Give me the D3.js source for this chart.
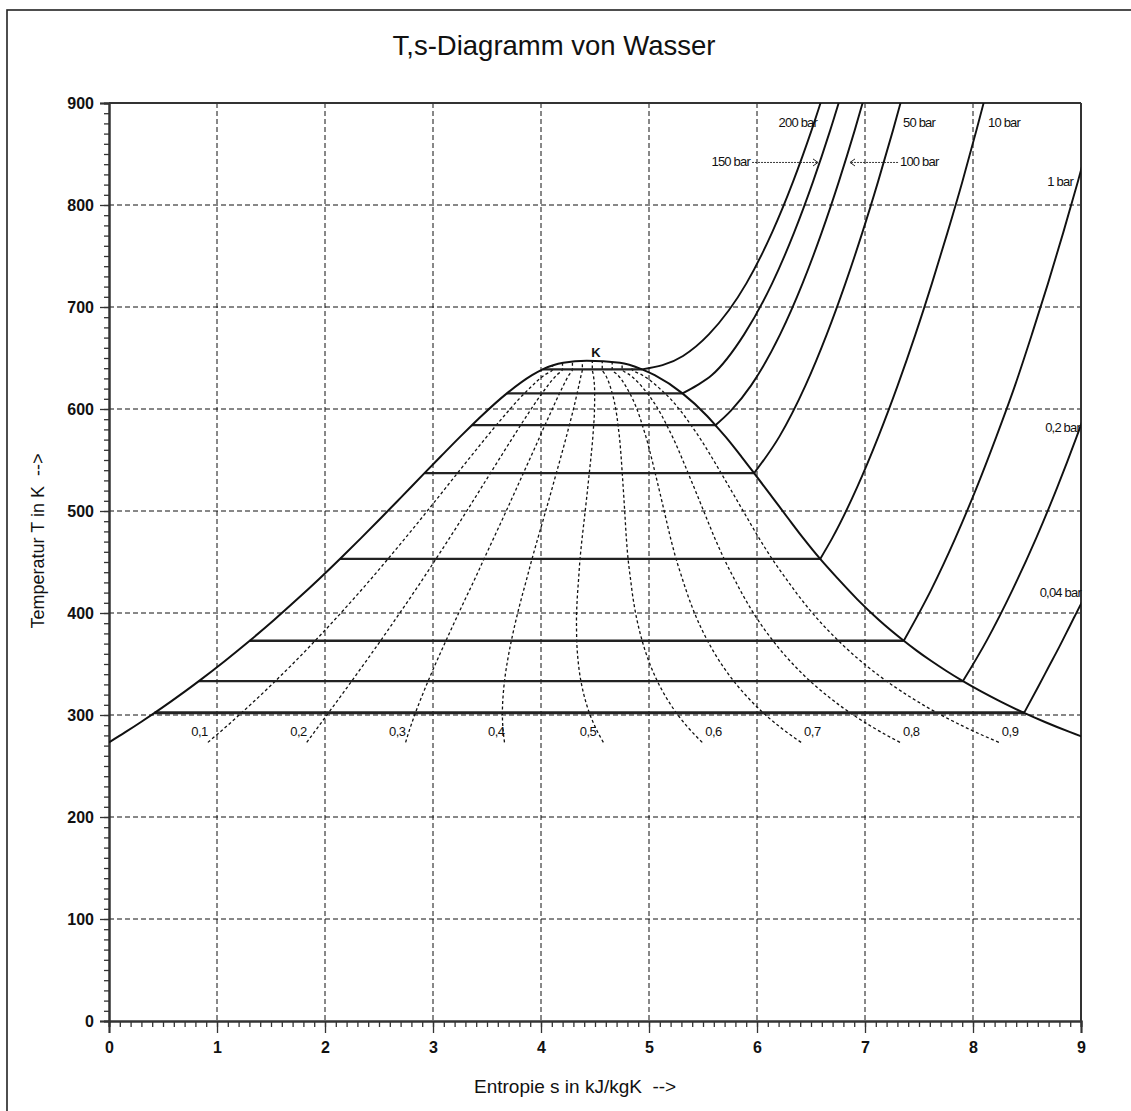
<!DOCTYPE html>
<html><head><meta charset="utf-8">
<script src="https://cdn.jsdelivr.net/npm/d3@7"></script>
<style>
body{margin:0;background:#fff}
svg{display:block}
text{font-family:"Liberation Sans",Arial,Helvetica,sans-serif;fill:#111}
</style>
</head><body>
<svg id="chart" width="1131" height="1111"></svg>
<script>
// ---------------- data ----------------
const titleText = "T,s-Diagramm von Wasser";
const xLabelText = "Entropie s in kJ/kgK \u00a0-->";
const yLabelText = "Temperatur T in K \u00a0-->";
const xMajorTicks = [0,1,2,3,4,5,6,7,8,9];
const yMajorTicks = [0,100,200,300,400,500,600,700,800,900];
const xGrid = [1,2,3,4,5,6,7,8];
const yGrid = [100,200,300,400,500,600,700,800];

// saturation line of water (T in K, s' and s'' in kJ/kgK)
const satT  = [273.16,283.15,293.15,302.1,313.15,323.15,333.2,343.15,353.15,363.15,372.8,393.15,413.15,433.15,453.0,473.15,493.15,513.15,537.1,553.15,573.15,584.1,593.15,615.3,633.15,638.9];
const satSL = [0.000,0.151,0.2965,0.422,0.572,0.704,0.832,0.955,1.076,1.193,1.303,1.528,1.739,1.943,2.138,2.331,2.518,2.702,2.921,3.069,3.255,3.360,3.449,3.684,3.917,4.015];
const satSV = [9.155,8.900,8.666,8.473,8.256,8.075,7.907,7.754,7.611,7.478,7.359,7.129,6.931,6.753,6.585,6.430,6.286,6.144,5.973,5.857,5.706,5.615,5.538,5.310,5.053,4.935];
// top of the dome round the critical point K
const critArcS = [4.206,4.423,4.731];
const critArcT = [645.4,647.2,645.4];
const critLabel = "K";

// vapour quality lines
const qualities = [0.1,0.2,0.3,0.4,0.5,0.6,0.7,0.8,0.9];
const qualityLabels = ["0,1","0,2","0,3","0,4","0,5","0,6","0,7","0,8","0,9"];

// isobars: saturation temperatures (two-phase horizontals)
const isobarNames = ["0,04 bar","0,2 bar","1 bar","10 bar","50 bar","100 bar","150 bar","200 bar"];
const isobarSatT  = [302.1,333.2,372.8,453.0,537.1,584.1,615.3,638.9];

// superheated isobars (s, T)
const p004S = [8.473,8.60,8.70,8.80,8.90,9.00,9.05];
const p004T = [302.1,327,347,367,388,409,419];
const p02S  = [7.907,8.128,8.368,8.584,8.780,8.961,9.13];
const p02T  = [333.2,373.15,423.15,473.15,523.15,573.15,623.15];
const p1S   = [7.359,7.6148,7.8356,8.0346,8.2172,8.3893,8.5452,8.6946,8.8362,8.9713,9.0999];
const p1T   = [372.8,423.15,473.15,523.15,573.15,623.15,673.15,723.15,773.15,823.15,873.15];
const p10S  = [6.585,6.6955,6.9265,7.1246,7.3029,7.4670,7.6198,7.7642,7.9020,8.0311,8.1563];
const p10T  = [453.0,473.15,523.15,573.15,623.15,673.15,723.15,773.15,823.15,873.15,923.15];
const p50S  = [5.973,6.2084,6.4493,6.6459,6.8186,6.9759,7.1217,7.2589,7.3892];
const p50T  = [537.1,573.15,623.15,673.15,723.15,773.15,823.15,873.15,923.15];
const p100S = [5.615,5.7568,5.9459,6.2141,6.4219,6.5995,6.7585,6.9045,7.0408];
const p100T = [584.1,598.15,623.15,673.15,723.15,773.15,823.15,873.15,923.15];
const p150S = [5.310,5.4438,5.58,5.8811,6.1403,6.3442,6.5198,6.6775,6.8223];
const p150T = [615.3,623.15,633.0,673.15,723.15,773.15,823.15,873.15,923.15];
const p200S = [4.935,5.315,5.554,5.9017,6.1401,6.3348,6.5048,6.6582];
const p200T = [638.9,652.0,673.15,723.15,773.15,823.15,873.15,923.15];

// ---------------- drawing ----------------
const svg = d3.select("#chart");
const W = 1131, H = 1111;
const m = {left:109, right:1081, top:103, bottom:1021};
const x = d3.scaleLinear().domain([0,9]).range([m.left, m.right]);
const y = d3.scaleLinear().domain([0,900]).range([m.bottom, m.top]);

svg.append("rect").attr("width",W).attr("height",H).attr("fill","#fff");
// outer frame
svg.append("rect").attr("x",7).attr("y",10).attr("width",W+20).attr("height",H+20)
  .attr("fill","none").attr("stroke","#222").attr("stroke-width",1.6);

svg.append("defs").append("clipPath").attr("id","plotclip")
  .append("rect").attr("x",m.left).attr("y",m.top).attr("width",m.right-m.left).attr("height",m.bottom-m.top);

// title
svg.append("text").attr("x",554).attr("y",55).attr("text-anchor","middle")
  .style("font-size","27.5px").text(titleText);

// grid
const grid = svg.append("g").attr("stroke","#111").attr("stroke-width",1).attr("stroke-dasharray","5,3");
grid.selectAll("line.v").data(xGrid).join("line").attr("class","v")
  .attr("x1",d=>x(d)).attr("x2",d=>x(d)).attr("y1",y(900)).attr("y2",y(0));
grid.selectAll("line.h").data(yGrid).join("line").attr("class","h")
  .attr("x1",x(0)).attr("x2",x(9)).attr("y1",d=>y(d)).attr("y2",d=>y(d));

// axes
const xMinor = d3.range(0,91).map(i=>i/10);
const yMinor = d3.range(0,91).map(i=>i*10);
const gx1 = svg.append("g").attr("transform",`translate(0,${m.bottom})`)
  .call(d3.axisBottom(x).tickValues(xMinor).tickSize(6).tickFormat(""));
const gx2 = svg.append("g").attr("transform",`translate(0,${m.bottom})`)
  .call(d3.axisBottom(x).tickValues(xMajorTicks).tickSize(12).tickPadding(9).tickFormat(d3.format("d")));
const gy1 = svg.append("g").attr("transform",`translate(${m.left},0)`)
  .call(d3.axisLeft(y).tickValues(yMinor).tickSize(5).tickFormat(""));
const gy2 = svg.append("g").attr("transform",`translate(${m.left},0)`)
  .call(d3.axisLeft(y).tickValues(yMajorTicks).tickSize(9).tickPadding(6).tickFormat(d3.format("d")));
[gx1,gx2,gy1,gy2].forEach(g=>{
  g.selectAll("path.domain").attr("stroke","#333").attr("stroke-width",2);
  g.selectAll(".tick line").attr("stroke","#333").attr("stroke-width",1.3);
  g.selectAll("text").style("font-size","16px").style("font-weight","bold")
    .style("font-family","'Liberation Sans',Arial,sans-serif").attr("fill","#111");
});
// top and right frame of plot
svg.append("line").attr("x1",x(0)).attr("x2",x(9)).attr("y1",y(900)).attr("y2",y(900)).attr("stroke","#333").attr("stroke-width",2);
svg.append("line").attr("x1",x(9)).attr("x2",x(9)).attr("y1",y(900)).attr("y2",y(0)).attr("stroke","#333").attr("stroke-width",2);

// axis titles
svg.append("text").attr("x",474).attr("y",1093).style("font-size","19px").text(xLabelText);
svg.append("text").attr("transform","translate(44,541) rotate(-90)").attr("text-anchor","middle")
  .style("font-size","18px").text(yLabelText);

const plot = svg.append("g").attr("clip-path","url(#plotclip)");
const lineMX = d3.line().x(d=>x(d[0])).y(d=>y(d[1])).curve(d3.curveMonotoneX);
const lineMY = d3.line().x(d=>x(d[0])).y(d=>y(d[1])).curve(d3.curveMonotoneY);
const lineL = d3.line().x(d=>x(d[0])).y(d=>y(d[1]));

// quality lines
const n = satT.length;
const arcPts = [[satSL[n-1],satT[n-1]]].concat(critArcS.map((s,i)=>[s,critArcT[i]])).concat([[satSV[n-1],satT[n-1]]]);
const arcT = d3.scaleLinear().domain(arcPts.map(p=>p[0])).range(arcPts.map(p=>p[1]));
const qLines = qualities.map(q=>{
  const pts = satT.map((t,i)=>[satSL[i]+q*(satSV[i]-satSL[i]), t]);
  const sTop = satSL[n-1]+q*(satSV[n-1]-satSL[n-1]);
  pts.push([sTop, arcT(sTop)]);
  return pts;
});
plot.selectAll("path.q").data(qLines).join("path").attr("class","q")
  .attr("d",lineMY).attr("fill","none").attr("stroke","#111").attr("stroke-width",1.3).attr("stroke-dasharray","3,2.5");

// two-phase horizontals
const twoPhase = isobarSatT.map(t=>{ const i = satT.indexOf(t); return [[satSL[i],t],[satSV[i],t]]; });
plot.selectAll("path.tp").data(twoPhase).join("path").attr("class","tp")
  .attr("d",lineL).attr("fill","none").attr("stroke","#222").attr("stroke-width",(d,i)=>i===0?3:2.3);

// dome
const dome = satT.map((t,i)=>[satSL[i],t])
  .concat(critArcS.map((s,i)=>[s,critArcT[i]]))
  .concat(satT.map((t,i)=>[satSV[i],t]).reverse());
plot.append("path").attr("d",lineMX(dome)).attr("fill","none").attr("stroke","#111").attr("stroke-width",2);

// superheated isobars
const supS = [p004S,p02S,p1S,p10S,p50S,p100S,p150S,p200S];
const supT = [p004T,p02T,p1T,p10T,p50T,p100T,p150T,p200T];
const sup = supS.map((ss,k)=>ss.map((s,i)=>[s,supT[k][i]]));
plot.selectAll("path.sup").data(sup).join("path").attr("class","sup")
  .attr("d",lineMX).attr("fill","none").attr("stroke","#111").attr("stroke-width",1.9);

// quality labels
const qlab = svg.append("g").style("font-size","13px").style("letter-spacing","-0.5px");
qualities.forEach((q,k)=>{
  const endS = qLines[k][0][0];
  const px = x(endS);
  let anchor = "end", dx = 0;
  if (q > 0.55) { anchor = "start"; dx = 3; } else if (q > 0.45) { dx = -7; }
  qlab.append("text").attr("x",px+dx).attr("y",y(279)).attr("text-anchor",anchor).text(qualityLabels[k]);
});

// critical point label
svg.append("text").attr("x",x(4.509)).attr("y",y(651)).attr("text-anchor","middle")
  .style("font-size","13px").style("font-weight","bold").attr("fill","#1a2a4a").text(critLabel);

// isobar labels
const lab = svg.append("g").style("font-size","13px").style("letter-spacing","-0.8px");
const labSpec = [
  {i:7, s:6.556, t:876.5, a:"end"},
  {i:4, s:7.352, t:876.5, a:"start"},
  {i:3, s:8.139, t:876.5, a:"start"},
  {i:6, s:5.935, t:838.2, a:"end"},
  {i:5, s:7.324, t:838.2, a:"start"},
  {i:2, s:8.926, t:818.6, a:"end"},
  {i:1, s:8.991, t:577.5, a:"end"},
  {i:0, s:9.0,   t:415.7, a:"end"}
];
labSpec.forEach(d=>{
  lab.append("text").attr("x",x(d.s)).attr("y",y(d.t)).attr("text-anchor",d.a).text(isobarNames[d.i]);
});
// arrows for 150 bar and 100 bar
const arrows = [{s0:5.954,s1:6.565,t:841.7},{s0:7.306,s1:6.861,t:841.7}];
arrows.forEach(a=>{
  const yy = y(a.t), x0 = x(a.s0), x1 = x(a.s1), dir = Math.sign(x1-x0);
  svg.append("line").attr("x1",x0).attr("x2",x1).attr("y1",yy).attr("y2",yy)
    .attr("stroke","#222").attr("stroke-width",0.9).attr("stroke-dasharray","2,1");
  svg.append("path").attr("d",`M${x1-dir*5},${yy-3.5}L${x1},${yy}L${x1-dir*5},${yy+3.5}`)
    .attr("fill","none").attr("stroke","#222").attr("stroke-width",1);
});
</script>
</body></html>
